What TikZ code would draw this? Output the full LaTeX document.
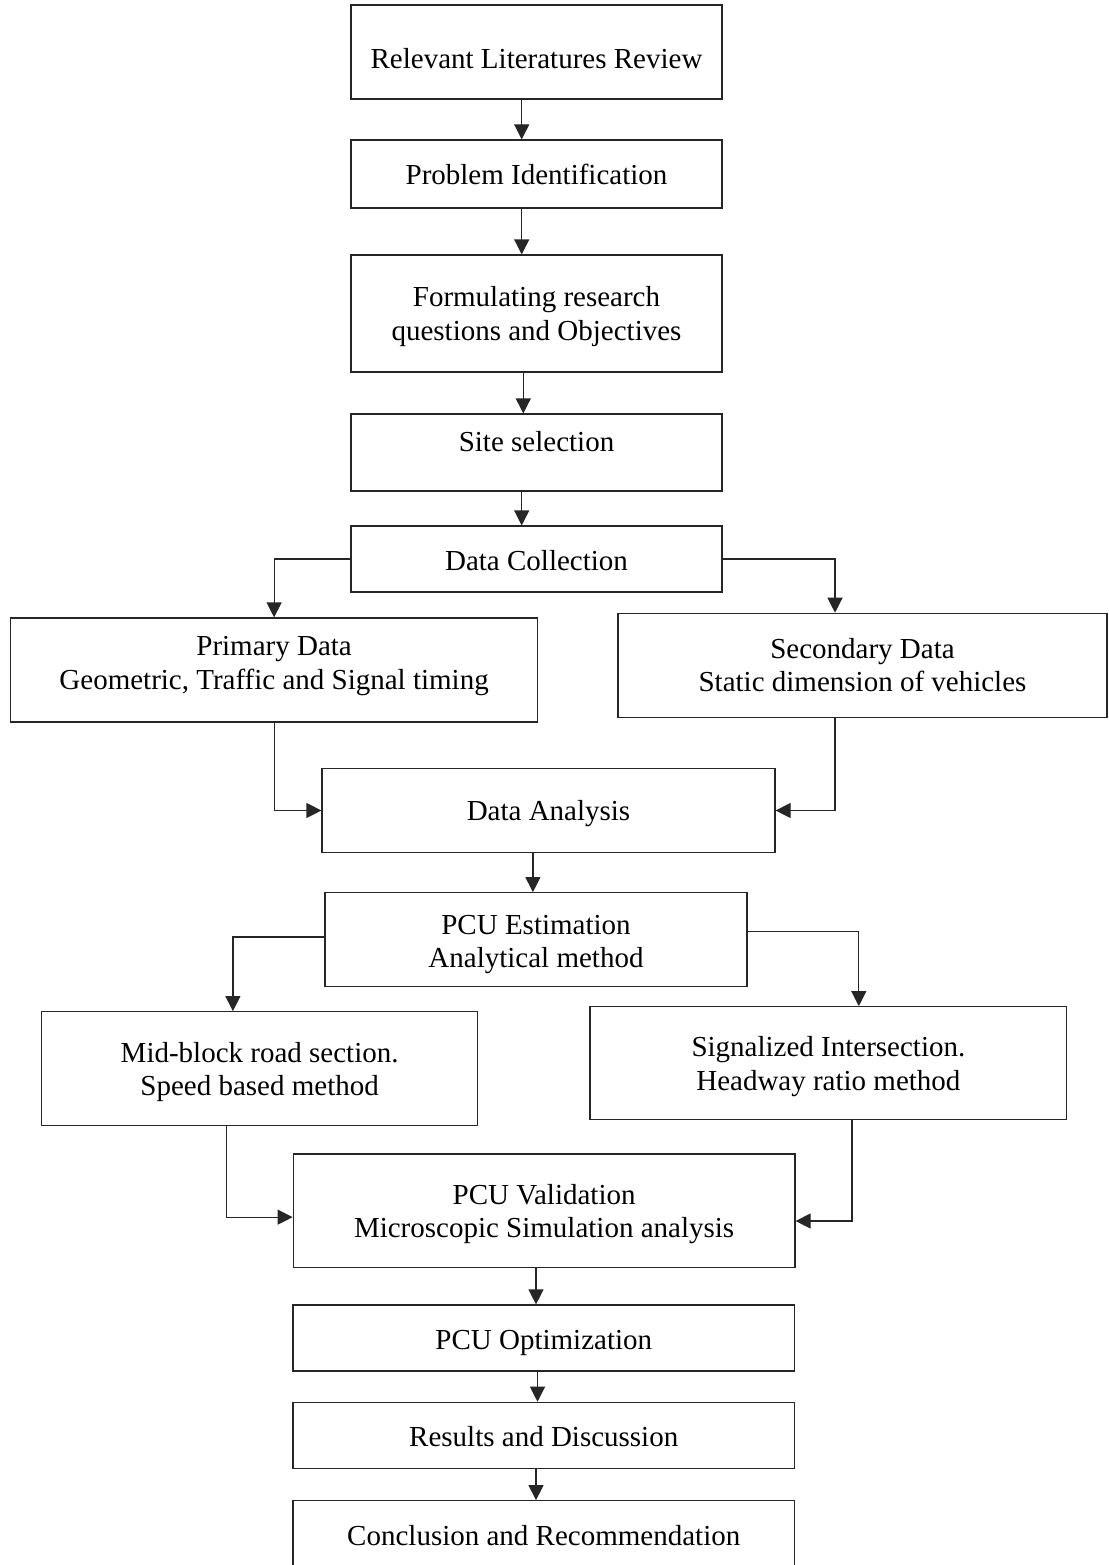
\documentclass[tikz,border=0pt]{standalone}
\usepackage{fontspec}
\setmainfont{Liberation Serif}
\usetikzlibrary{arrows.meta}
\newcommand{\twol}[2]{\begin{tabular}[t]{@{}c@{}}#1\\#2\end{tabular}}
\tikzset{
  box/.style={draw=black!85, line width=1.2pt, fill=white, inner sep=0pt, rectangle},
  txt/.style={inner sep=0pt, anchor=base, font=\fontsize{29}{33.5}\selectfont},
  arr/.style={draw=black!85, line width=1.2pt, -{Triangle[width=15pt,length=15pt]}},
  ln/.style={draw=black!85, line width=1.2pt}
}
\begin{document}
\begin{tikzpicture}[x=1pt,y=-1pt]
\useasboundingbox (0,0) rectangle (1108,1565);
\clip (0,0) rectangle (1108,1565);
\fill[white] (0,0) rectangle (1108,1565);

% boxes
\node[box, minimum width=371pt, minimum height=94pt] (b1) at (536.5,52) {};
\node[box, minimum width=371pt, minimum height=68pt] (b2) at (536.5,174) {};
\node[box, minimum width=371pt, minimum height=117pt] (b3) at (536.5,313.5) {};
\node[box, minimum width=371pt, minimum height=77pt] (b4) at (536.5,452.5) {};
\node[box, minimum width=371pt, minimum height=66pt] (b5) at (536.5,559) {};
\node[box, minimum width=526.8pt, minimum height=104pt] (prim) at (274.1,670) {};
\node[box, minimum width=489pt, minimum height=104pt] (sec) at (862.5,665.3) {};
\node[box, minimum width=453pt, minimum height=83.6pt] (da) at (548.5,810.5) {};
\node[box, minimum width=422pt, minimum height=94pt] (est) at (536,939.7) {};
\node[box, minimum width=435.7pt, minimum height=114pt] (mid) at (259.65,1068.7) {};
\node[box, minimum width=476.8pt, minimum height=112.6pt] (sig) at (828.4,1063) {};
\node[box, minimum width=501.8pt, minimum height=113.3pt] (val) at (544.1,1210.65) {};
\node[box, minimum width=501.5pt, minimum height=66pt] (opt) at (543.75,1338) {};
\node[box, minimum width=501.5pt, minimum height=66.4pt] (res) at (543.75,1435.5) {};
\node[box, minimum width=501.5pt, minimum height=79.3pt] (con) at (543.75,1540.35) {};

% texts
\node[txt] (t1) at (536.5,68.3) {Relevant Literatures Review};
\node[txt] (t2) at (536.5,185) {Problem Identification};
\node[txt] (t3) at (536.5,306.7) {\twol{Formulating research}{questions and Objectives}};
\node[txt] (t4) at (536.5,451.7) {Site selection};
\node[txt] (t5) at (536.5,570) {Data Collection};
\node[txt] (tprim) at (274.1,655.7) {\twol{Primary Data}{Geometric, Traffic and Signal timing}};
\node[txt] (tsec) at (862.5,658.3) {\twol{Secondary Data}{Static dimension of vehicles}};
\node[txt] (tda) at (548.5,820.7) {Data Analysis};
\node[txt] (test) at (536,934) {\twol{PCU Estimation}{Analytical method}};
\node[txt] (tmid) at (259.65,1062.3) {\twol{Mid-block road section.}{Speed based method}};
\node[txt] (tsig) at (828.4,1056.7) {\twol{Signalized Intersection.}{Headway ratio method}};
\node[txt] (tval) at (544.1,1204) {\twol{PCU Validation}{Microscopic Simulation analysis}};
\node[txt] (topt) at (543.75,1349) {PCU Optimization};
\node[txt] (tres) at (543.75,1446.7) {Results and Discussion};
\node[txt] (tcon) at (543.75,1545) {Conclusion and Recommendation};

% helper coordinates
\coordinate (c1) at ([xshift=-14.8pt]b1.south);
\coordinate (c2) at ([xshift=-14.8pt]b2.south);
\coordinate (c3) at ([xshift=-13.2pt]b3.south);
\coordinate (c4) at ([xshift=-14.8pt]b4.south);
\coordinate (c9) at ([xshift=-15.6pt]da.south);
\coordinate (c14) at ([xshift=-8.1pt]val.south);
\coordinate (c15) at ([xshift=-6.25pt]opt.south);
\coordinate (c16) at ([xshift=-7.75pt]res.south);

% connectors
\draw[arr] (c1) -- (c1 |- b2.north);
\draw[arr] (c2) -- (c2 |- b3.north);
\draw[arr] (c3) -- (c3 |- b4.north);
\draw[arr] (c4) -- (c4 |- b5.north);
\draw[arr] (b5.west) -| (prim.north);
\draw[arr] (b5.east) -| ([xshift=-27.5pt]sec.north);
\draw[arr] (prim.south) |- (da.west);
\draw[arr] ([xshift=-27.5pt]sec.south) |- (da.east);
\draw[arr] (c9) -- (c9 |- est.north);
\draw[arr] ([yshift=2.7pt]est.west) -| ([xshift=-26.75pt]mid.north);
\draw[arr] ([yshift=8pt]est.east) -| ([xshift=30.4pt]sig.north);
\draw[arr] ([xshift=-32.85pt]mid.south) |- ([yshift=-6.5pt]val.west);
\draw[arr] ([xshift=23.5pt]sig.south) |- ([yshift=-10.35pt]val.east);
\draw[arr] (c14) -- (c14 |- opt.north);
\draw[arr] (c15) -- (c15 |- res.north);
\draw[arr] (c16) -- (c16 |- con.north);
\end{tikzpicture}
\end{document}
